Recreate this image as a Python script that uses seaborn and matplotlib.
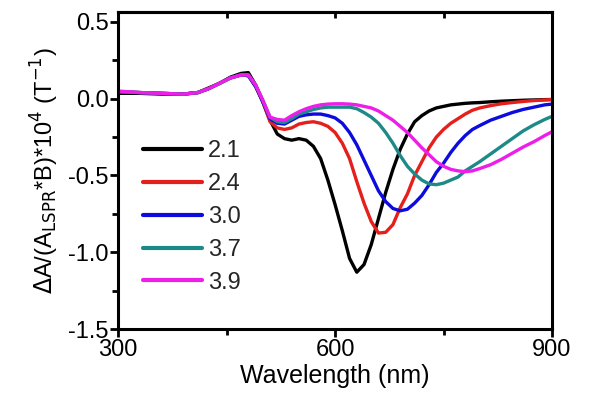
import pandas as pd
import matplotlib
matplotlib.use('Agg')
import matplotlib.pyplot as plt
import seaborn as sns

wavelength = [300, 330, 360, 390, 410, 425, 440, 455, 470, 480, 490, 500, 510, 520,
              530, 540, 550, 560, 570, 580, 590, 600, 610, 620, 630, 640, 650, 660,
              670, 680, 690, 700, 710, 720, 730, 740, 750, 760, 770, 780, 790, 800,
              815, 830, 845, 860, 875, 890, 900]

labels = ['2.1', '2.4', '3.0', '3.7', '3.9']
colors = ['#000000', '#e5201c', '#0c0cdc', '#1d8a88', '#ee1eea']

# shared part of the spectra (300-470 nm)
head = [0.045, 0.04, 0.035, 0.03, 0.04, 0.065, 0.10, 0.135, 0.155]

s21 = [0.035, 0.035, 0.03, 0.03, 0.04, 0.07, 0.10, 0.14, 0.165,
       0.17, 0.09, -0.02, -0.14, -0.23, -0.26, -0.27, -0.26, -0.27, -0.31, -0.39,
       -0.53, -0.69, -0.86, -1.04, -1.13, -1.08, -0.95, -0.78, -0.61, -0.46, -0.33,
       -0.23, -0.15, -0.11, -0.08, -0.06, -0.05, -0.04, -0.035, -0.03, -0.027, -0.025,
       -0.02, -0.016, -0.013, -0.01, -0.008, -0.006, -0.005]
s24 = head + [0.15, 0.08, -0.02, -0.15, -0.19, -0.20, -0.19, -0.165, -0.155, -0.15,
              -0.16, -0.18, -0.22, -0.29, -0.39, -0.54, -0.68, -0.80, -0.875, -0.87,
              -0.82, -0.71, -0.62, -0.50, -0.41, -0.32, -0.25, -0.20, -0.16, -0.13,
              -0.10, -0.075, -0.06, -0.045, -0.033, -0.025, -0.018, -0.012, -0.008,
              -0.006]
s30 = head + [0.15, 0.08, -0.02, -0.13, -0.16, -0.165, -0.14, -0.115, -0.105, -0.10,
              -0.10, -0.11, -0.125, -0.16, -0.22, -0.30, -0.40, -0.50, -0.60, -0.67,
              -0.715, -0.73, -0.72, -0.68, -0.63, -0.56, -0.48, -0.42, -0.35, -0.29,
              -0.24, -0.20, -0.175, -0.14, -0.115, -0.09, -0.07, -0.055, -0.04, -0.035]
s37 = head + [0.155, 0.09, -0.01, -0.12, -0.15, -0.155, -0.13, -0.10, -0.085, -0.07,
              -0.06, -0.055, -0.055, -0.055, -0.055, -0.065, -0.09, -0.12, -0.16,
              -0.22, -0.29, -0.37, -0.44, -0.49, -0.53, -0.555, -0.56, -0.55, -0.53,
              -0.51, -0.47, -0.44, -0.41, -0.36, -0.31, -0.26, -0.21, -0.17, -0.135,
              -0.115]
s39 = [0.05] + head[1:] + [0.155, 0.09, -0.01, -0.12, -0.135, -0.14, -0.11, -0.085,
                           -0.065, -0.05, -0.04, -0.035, -0.033, -0.033, -0.035,
                           -0.04, -0.05, -0.06, -0.08, -0.11, -0.14, -0.18, -0.22,
                           -0.27, -0.32, -0.365, -0.41, -0.44, -0.46, -0.47, -0.475,
                           -0.47, -0.455, -0.43, -0.395, -0.355, -0.315, -0.28, -0.24,
                           -0.215]

series = [s21, s24, s30, s37, s39]

sns.set_style('ticks')
plt.rcParams['font.family'] = ['Liberation Sans', 'DejaVu Sans']
plt.rcParams['axes.unicode_minus'] = False
plt.rcParams['axes.linewidth'] = 2.2
plt.rcParams['axes.edgecolor'] = 'black'
plt.rcParams['xtick.color'] = 'black'
plt.rcParams['ytick.color'] = 'black'


def main():
    frames = []
    for lab, vals in zip(labels, series):
        frames.append(pd.DataFrame({'wl': wavelength, 'val': vals, 'x': lab}))
    df = pd.concat(frames)

    fig = plt.figure(figsize=(6, 3.99), dpi=100)
    ax = fig.add_axes([0.197, 0.1754, 0.723, 0.7946])
    sns.lineplot(data=df, x='wl', y='val', hue='x', palette=colors,
                 hue_order=labels, linewidth=2.4, ax=ax)

    ax.set_xlim(300, 900)
    ax.set_ylim(-1.5, 0.565)
    ax.set_xticks([300, 600, 900])
    ax.set_xticks([450, 750], minor=True)
    ax.set_yticks([-1.5, -1.0, -0.5, 0.0, 0.5])
    ax.set_yticks([-1.25, -0.75, -0.25, 0.25], minor=True)
    ax.tick_params(which='major', length=6, width=2, labelsize=17, pad=1,
                   labelcolor='black')
    ax.tick_params(which='minor', length=4, width=2)
    sec = ax.secondary_xaxis('top')
    sec.set_xticks([450, 600, 750])
    sec.tick_params(direction='in', length=4, width=2, labeltop=False)
    sec.spines['top'].set_linewidth(2.2)

    ax.set_xlabel('Wavelength (nm)', fontsize=18, labelpad=2, color='black')
    ax.set_ylabel(r'$\Delta$A/(A$_{\mathrm{LSPR}}$*B)*10$^{4}$ (T$^{-1}$)',
                  fontsize=17, labelpad=5, color='black')

    ax.legend(frameon=False, loc='upper left', bbox_to_anchor=(0.036, 0.625),
              fontsize=17, handlelength=2.5, handletextpad=0.25, labelspacing=0.46,
              borderaxespad=0)
    for line in ax.get_legend().get_lines():
        line.set_linewidth(3)

    fig.savefig('out.png', dpi=100)


if __name__ == '__main__':
    main()
